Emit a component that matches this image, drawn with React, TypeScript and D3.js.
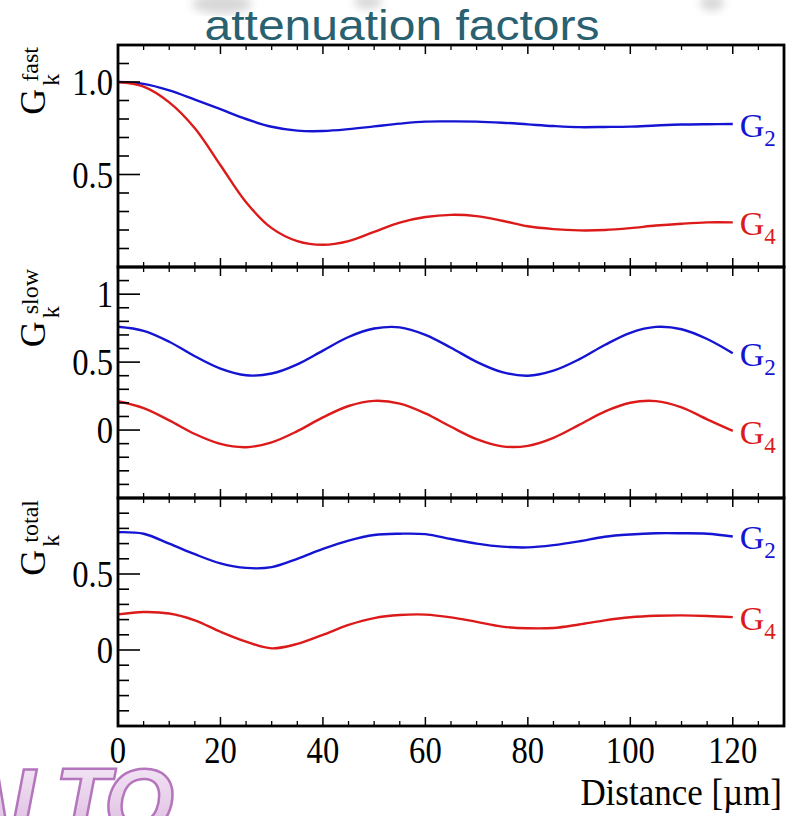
import React from 'react';
import * as d3 from 'd3';

// distance samples [um]
const distance = [0, 5, 10, 15, 20, 25, 30, 35, 40, 45, 50, 55, 60, 65, 70, 75, 80, 85, 90, 95, 100, 105, 110, 115, 120];

// fast component
const fastG2 = [1.0, 0.99, 0.955, 0.905, 0.853, 0.8, 0.758, 0.737, 0.735, 0.745, 0.76, 0.775, 0.786, 0.787, 0.786, 0.78, 0.771, 0.762, 0.756, 0.757, 0.759, 0.765, 0.77, 0.772, 0.773];
const fastG4 = [1.0, 0.975, 0.89, 0.75, 0.55, 0.35, 0.21, 0.14, 0.12, 0.14, 0.19, 0.24, 0.27, 0.282, 0.275, 0.25, 0.22, 0.205, 0.198, 0.2, 0.21, 0.224, 0.234, 0.241, 0.241];

// slow component
const slowG2 = [0.76, 0.73, 0.65, 0.543, 0.452, 0.403, 0.416, 0.484, 0.585, 0.685, 0.747, 0.756, 0.701, 0.606, 0.502, 0.426, 0.4, 0.437, 0.52, 0.626, 0.716, 0.759, 0.742, 0.67, 0.565];
const slowG4 = [0.212, 0.161, 0.071, -0.029, -0.102, -0.126, -0.09, -0.008, 0.093, 0.177, 0.215, 0.195, 0.123, 0.024, -0.067, -0.12, -0.116, -0.057, 0.038, 0.136, 0.201, 0.213, 0.167, 0.079, -0.006];

// total
const totalG2 = [0.775, 0.765, 0.7, 0.63, 0.57, 0.54, 0.545, 0.6, 0.665, 0.72, 0.757, 0.765, 0.762, 0.73, 0.7, 0.68, 0.675, 0.69, 0.715, 0.745, 0.76, 0.768, 0.768, 0.765, 0.747];
const totalG4 = [0.234, 0.25, 0.24, 0.195, 0.12, 0.055, 0.011, 0.04, 0.1, 0.165, 0.21, 0.23, 0.233, 0.215, 0.185, 0.154, 0.143, 0.145, 0.168, 0.195, 0.215, 0.225, 0.228, 0.224, 0.216];

const xTicks = [0, 20, 40, 60, 80, 100, 120];
const panelNames = ['fast', 'slow', 'total'];
const yDomains = [[0, 1.2], [-0.5, 1.2], [-0.5, 1.0]];
const yMajor = [[0.5, 1.0], [0, 0.5, 1], [0, 0.5]];
const yMajorLabels = [['0.5', '1.0'], ['0', '0.5', '1'], ['0', '0.5']];

const BLUE = '#1414d2';
const RED = '#dc1a1a';
const SERIF = '"Liberation Serif", "Times New Roman", serif';

const left = 118;
const right = 784;
const tops = [45, 267, 498];
const bottoms = [267, 498, 726];

// narrow serif text like the original (squeezed horizontally)
const Narrow = ({ x, y, anchor, size, children, fill = '#000', sx = 0.86 }: any) => (
  <text transform={`translate(${x},${y}) scale(${sx},1)`} textAnchor={anchor}
    fontFamily={SERIF} fontSize={size} fill={fill}>{children}</text>
);

const App = () => {
  const x = d3.scaleLinear().domain([0, 130]).range([left, right]);
  const minorX = d3.range(5, 130, 5).filter(v => v % 20 !== 0);
  const series = [[fastG2, fastG4], [slowG2, slowG4], [totalG2, totalG4]];

  return (
    <svg width={790} height={816} style={{ position: 'absolute', left: 0, top: 0, background: '#fff' }}>
      <defs>
        <linearGradient id="logoFill" x1="0" y1="0" x2="0" y2="1">
          <stop offset="0" stopColor="#f7ecf8" />
          <stop offset="1" stopColor="#d8b2dd" />
        </linearGradient>
        <filter id="blur"><feGaussianBlur stdDeviation="4" /></filter>
      </defs>

      {/* faint ghost shapes at top of slide */}
      <g filter="url(#blur)" fill="#c8c8c8" opacity={0.7}>
        <ellipse cx={222} cy={4} rx={30} ry={10} />
        <ellipse cx={368} cy={2} rx={14} ry={7} />
        <ellipse cx={712} cy={3} rx={12} ry={8} />
      </g>

      <text x={402} y={40} textAnchor="middle" fontFamily='"Liberation Sans", Arial, sans-serif'
        fontSize={42} fill="#2a6170" textLength={395} lengthAdjust="spacingAndGlyphs">
        attenuation factors
      </text>

      {series.map((pair, i) => {
        const y = d3.scaleLinear().domain(yDomains[i]).range([bottoms[i], tops[i]]);
        const line = d3.line<number>()
          .x((_, j) => x(distance[j]))
          .y(d => y(d))
          .curve(d3.curveCatmullRom);
        const [lo, hi] = yDomains[i];
        const minorY = d3.range(Math.round(lo * 10) + 1, Math.round(hi * 10))
          .map(v => v / 10)
          .filter(v => !yMajor[i].some(m => Math.abs(m - v) < 1e-6));
        const lastX = x(distance[distance.length - 1]);
        return (
          <g key={i}>
            {pair.map((vals, k) => (
              <path key={k} d={line(vals) || ''} fill="none" stroke={k === 0 ? BLUE : RED} strokeWidth={2.4} />
            ))}
            {pair.map((vals, k) => (
              <text key={'l' + k} x={lastX + 7} y={y(vals[vals.length - 1]) + 13}
                fontFamily={SERIF} fontSize={34} fill={k === 0 ? BLUE : RED}>
                G<tspan fontSize={23} dy={9}>{k === 0 ? '2' : '4'}</tspan>
              </text>
            ))}
            {/* y ticks */}
            {yMajor[i].map(v => (
              <line key={'M' + v} x1={left} x2={left + 22} y1={y(v)} y2={y(v)} stroke="#000" strokeWidth={1.6} />
            ))}
            {minorY.map(v => (
              <line key={'m' + v} x1={left} x2={left + 11} y1={y(v)} y2={y(v)} stroke="#000" strokeWidth={1.6} />
            ))}
            {yMajor[i].map((v, k) => (
              <Narrow key={'t' + v} x={left - 5} y={y(v) + 13} anchor="end" size={38}>{yMajorLabels[i][k]}</Narrow>
            ))}
            {/* x ticks top and bottom */}
            {xTicks.map(v => (
              <g key={'x' + v}>
                <line x1={x(v)} x2={x(v)} y1={bottoms[i]} y2={bottoms[i] - 9} stroke="#000" strokeWidth={1.5} />
                <line x1={x(v)} x2={x(v)} y1={tops[i]} y2={tops[i] + 9} stroke="#000" strokeWidth={1.5} />
              </g>
            ))}
            {minorX.map(v => (
              <g key={'xm' + v}>
                <line x1={x(v)} x2={x(v)} y1={bottoms[i]} y2={bottoms[i] - 5} stroke="#000" strokeWidth={1.3} />
                <line x1={x(v)} x2={x(v)} y1={tops[i]} y2={tops[i] + 5} stroke="#000" strokeWidth={1.3} />
              </g>
            ))}
            <rect x={left} y={tops[i]} width={right - left} height={bottoms[i] - tops[i]}
              fill="none" stroke="#000" strokeWidth={2.8} />
            {/* axis title */}
            <text transform={`translate(45,${tops[i] + 2}) rotate(-90)`} textAnchor="end" fontFamily={SERIF} fontSize={36}>
              G<tspan fontSize={24} dx={3} dy={14}>k</tspan>
              <tspan fontSize={24} dx={-8} dy={-21}>{panelNames[i]}</tspan>
            </text>
          </g>
        );
      })}

      {xTicks.map(v => (
        <Narrow key={'xl' + v} x={x(v)} y={763} anchor="middle" size={38}>{v}</Narrow>
      ))}
      <Narrow x={782} y={805} anchor="end" size={38} sx={0.92}>Distance [µm]</Narrow>

      <text x={170} y={832} textAnchor="end" fontFamily='"Liberation Sans", Arial, sans-serif' letterSpacing={-4}
        fontWeight="bold" fontStyle="italic" fontSize={90} fill="url(#logoFill)" stroke="#b575bd" strokeWidth={2.5}>
        AALTO
      </text>
    </svg>
  );
};

export default App;
